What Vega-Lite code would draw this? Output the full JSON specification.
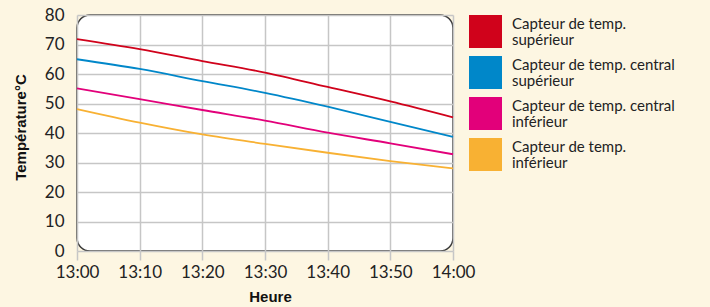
{
  "$schema": "https://vega.github.io/schema/vega-lite/v6.json",
  "width": 376,
  "height": 236,
  "autosize": {"type": "none"},
  "padding": {"left": 77, "top": 15, "right": 257, "bottom": 56},
  "background": "#fdf6e2",
  "config": {
    "view": {"fill": "#ffffff", "stroke": "#3a3a3a", "strokeWidth": 1.5, "cornerRadius": 13},
    "axis": {"gridColor": "#c6c6c6", "gridWidth": 1.5, "gridOpacity": 1, "domain": false}
  },
  "data": {
    "values": [
      {"minute": 0, "capteur": "Capteur de temp. supérieur", "temp": 71.8},
      {"minute": 10, "capteur": "Capteur de temp. supérieur", "temp": 68.4},
      {"minute": 20, "capteur": "Capteur de temp. supérieur", "temp": 64.4},
      {"minute": 30, "capteur": "Capteur de temp. supérieur", "temp": 60.5},
      {"minute": 40, "capteur": "Capteur de temp. supérieur", "temp": 55.6},
      {"minute": 50, "capteur": "Capteur de temp. supérieur", "temp": 50.7},
      {"minute": 60, "capteur": "Capteur de temp. supérieur", "temp": 45.3},
      {"minute": 0, "capteur": "Capteur de temp. central supérieur", "temp": 65.0},
      {"minute": 10, "capteur": "Capteur de temp. central supérieur", "temp": 61.7},
      {"minute": 20, "capteur": "Capteur de temp. central supérieur", "temp": 57.6},
      {"minute": 30, "capteur": "Capteur de temp. central supérieur", "temp": 53.6},
      {"minute": 40, "capteur": "Capteur de temp. central supérieur", "temp": 48.9},
      {"minute": 50, "capteur": "Capteur de temp. central supérieur", "temp": 43.8},
      {"minute": 60, "capteur": "Capteur de temp. central supérieur", "temp": 38.7},
      {"minute": 0, "capteur": "Capteur de temp. central inférieur", "temp": 55.1},
      {"minute": 10, "capteur": "Capteur de temp. central inférieur", "temp": 51.5},
      {"minute": 20, "capteur": "Capteur de temp. central inférieur", "temp": 47.8},
      {"minute": 30, "capteur": "Capteur de temp. central inférieur", "temp": 44.2},
      {"minute": 40, "capteur": "Capteur de temp. central inférieur", "temp": 40.1},
      {"minute": 50, "capteur": "Capteur de temp. central inférieur", "temp": 36.5},
      {"minute": 60, "capteur": "Capteur de temp. central inférieur", "temp": 32.8},
      {"minute": 0, "capteur": "Capteur de temp. inférieur", "temp": 48.1},
      {"minute": 10, "capteur": "Capteur de temp. inférieur", "temp": 43.5},
      {"minute": 20, "capteur": "Capteur de temp. inférieur", "temp": 39.5},
      {"minute": 30, "capteur": "Capteur de temp. inférieur", "temp": 36.3},
      {"minute": 40, "capteur": "Capteur de temp. inférieur", "temp": 33.3},
      {"minute": 50, "capteur": "Capteur de temp. inférieur", "temp": 30.5},
      {"minute": 60, "capteur": "Capteur de temp. inférieur", "temp": 28.0}
    ]
  },
  "mark": {"type": "line", "strokeWidth": 1.8, "interpolate": "monotone"},
  "encoding": {
    "x": {
      "field": "minute",
      "type": "quantitative",
      "scale": {"domain": [0, 60], "nice": false},
      "axis": {
        "title": "Heure",
        "values": [0, 10, 20, 30, 40, 50, 60],
        "labelExpr": "datum.value == 60 ? '14:00' : datum.value == 0 ? '13:00' : '13:' + datum.value",
        "labelFont": "Lato",
        "labelFontSize": 17,
        "labelColor": "#222222",
        "labelPadding": 4,
        "labelFlush": false,
        "ticks": true,
        "tickColor": "#c6c6c6",
        "tickWidth": 1.5,
        "tickSize": 9,
        "titleFont": "Liberation Sans",
        "titleFontSize": 15,
        "titleFontWeight": "bold",
        "titleColor": "#111111",
        "titlePadding": 9,
        "titleX": 193
      }
    },
    "y": {
      "field": "temp",
      "type": "quantitative",
      "scale": {"domain": [0, 80], "nice": false},
      "axis": {
        "title": "Température°C",
        "values": [0, 10, 20, 30, 40, 50, 60, 70, 80],
        "labelFont": "Lato",
        "labelFontSize": 17,
        "labelColor": "#222222",
        "ticks": false,
        "labelPadding": 13,
        "titleFont": "Liberation Sans",
        "titleFontSize": 15,
        "titleFontWeight": "bold",
        "titleColor": "#111111",
        "titlePadding": 16,
        "titleY": 112
      }
    },
    "color": {
      "field": "capteur",
      "type": "nominal",
      "scale": {
        "domain": ["Capteur de temp. supérieur", "Capteur de temp. central supérieur", "Capteur de temp. central inférieur", "Capteur de temp. inférieur"],
        "range": ["#d0021b", "#0087c9", "#e2007a", "#f8b133"]
      },
      "legend": {
        "title": null,
        "orient": "none",
        "legendX": 392,
        "legendY": 0,
        "padding": 0,
        "symbolType": "square",
        "symbolSize": 1089,
        "symbolStrokeWidth": 0,
        "rowPadding": 8,
        "labelOffset": 10,
        "labelFont": "Lato",
        "labelFontSize": 15,
        "labelColor": "#222222",
        "labelLimit": 260,
        "labelExpr": "indexof(datum.label, 'central') > 0 ? ['Capteur de temp. central', slice(datum.label, 25)] : ['Capteur de temp.', slice(datum.label, 17)]",
        "encode": {
          "symbols": {"update": {"fill": {"scale": "color", "field": "value"}, "strokeWidth": {"value": 0}, "opacity": {"value": 1}}},
          "labels": {"update": {"lineHeight": {"value": 16}, "dy": {"value": -8}}}
        }
      }
    }
  }
}
